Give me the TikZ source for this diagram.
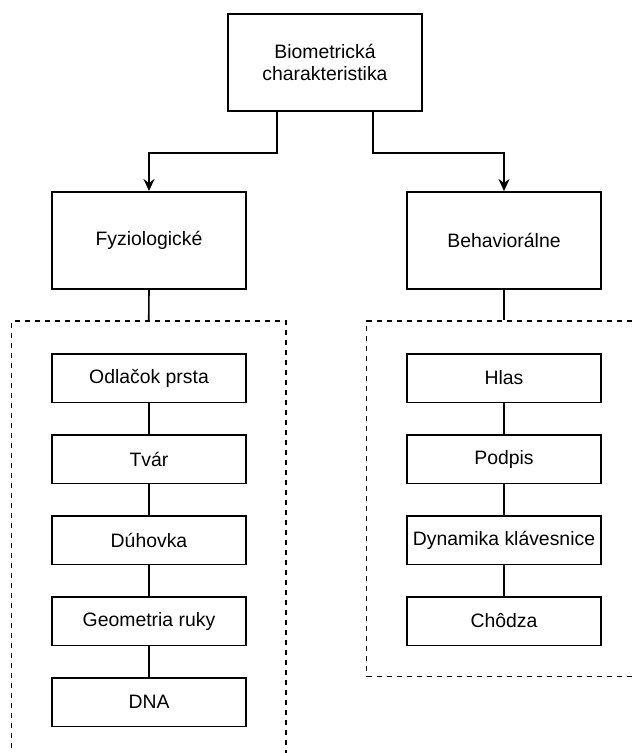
\documentclass[tikz,border=0pt]{standalone}
\usepackage{fontspec}
\setmainfont{Liberation Sans}
\usetikzlibrary{arrows.meta}
\usetikzlibrary{positioning}

\tikzset{
  kat/.style={draw, line width=1.6pt, minimum width=194pt, minimum height=97pt, align=center, inner sep=0pt},
  polozka/.style={draw, line width=1.6pt, minimum width=194pt, minimum height=48.6pt, inner sep=0pt},
  skupina/.style={draw, line width=1.4pt, dash pattern=on 5pt off 5pt, inner sep=0pt},
  spoj/.style={line width=1.6pt},
  sipka/.style={line width=1.6pt, -{Stealth[length=12pt, width=11pt, inset=4pt]}},
}

\begin{document}
\begin{tikzpicture}[x=1pt, y=-1pt, font=\fontsize{19.4}{22.5}\selectfont, node distance=30.8pt]
\useasboundingbox (0,0) rectangle (634,753);

% skupiny
\node[skupina, minimum width=274.5pt, minimum height=449pt] (lgrp) at (148.75,545.5) {};
\node[skupina, minimum width=274.6pt, minimum height=355.7pt] (rgrp) at (504,498.9) {};

% hlavne uzly
\node[kat] (top) at (325,62.5) {Biometrická\\charakteristika};
\node[kat] (fyz) at (149,240.3) {Fyziologické};
\node[kat] (beh) at (504,240.3) {Behaviorálne};

\draw[sipka] ([xshift=-48pt]top.south) -- ++(0,41) -| (fyz.north);
\draw[sipka] ([xshift=48pt]top.south) -- ++(0,41) -| (beh.north);
\draw[spoj] (fyz.south) -- (lgrp.north);
\draw[spoj] (beh.south) -- (rgrp.north);

% fyziologicke
\node[polozka] (f1) at (149,378) {Odlačok prsta};
\node[polozka, below=of f1] (f2) {Tvár};
\node[polozka, below=of f2] (f3) {Dúhovka};
\node[polozka, below=of f3] (f4) {Geometria ruky};
\node[polozka, below=of f4] (f5) {DNA};

% behavioralne
\node[polozka] (b1) at (504,378) {Hlas};
\node[polozka, below=of b1] (b2) {Podpis};
\node[polozka, below=of b2] (b3) {Dynamika klávesnice};
\node[polozka, below=of b3] (b4) {Chôdza};

\foreach \a/\b in {f1/f2,f2/f3,f3/f4,f4/f5,b1/b2,b2/b3,b3/b4}
  \draw[spoj] (\a) -- (\b);
\end{tikzpicture}
\end{document}
